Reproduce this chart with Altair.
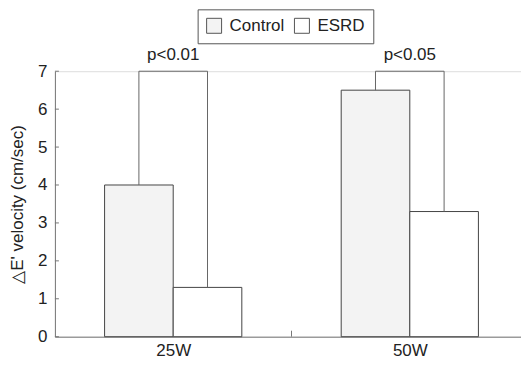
import altair as alt
import pandas as pd

groups = ["25W", "50W"]
series = ["Control", "ESRD"]
control = [4.0, 6.5]
esrd = [1.3, 3.3]
p_labels = ["p<0.01", "p<0.05"]
bracket_top = [7.0, 7.0]
y_ticks = [0, 1, 2, 3, 4, 5, 6, 7]

HALF = 0.29  # bar width in group units

bar_rows = []
br_rows = []
lab_rows = []
for i, g in enumerate(groups):
    c = i + 1
    bar_rows.append(dict(group=g, series="Control", x=c - HALF, x2=c, value=control[i]))
    bar_rows.append(dict(group=g, series="ESRD", x=c, x2=c + HALF, value=esrd[i]))
    pts = [(c - HALF / 2, control[i]), (c - HALF / 2, bracket_top[i]),
           (c + HALF / 2, bracket_top[i]), (c + HALF / 2, esrd[i])]
    for k, (px, py) in enumerate(pts):
        br_rows.append(dict(group=g, order=k, x=px, value=py))
    lab_rows.append(dict(group=g, x=c, value=bracket_top[i], text=p_labels[i]))

bars_df = pd.DataFrame(bar_rows)
br_df = pd.DataFrame(br_rows)
lab_df = pd.DataFrame(lab_rows)
tick_df = pd.DataFrame({"value": y_ticks})
mid_df = pd.DataFrame({"x": [1.5]})

W, H = 467, 266
xscale = alt.Scale(domain=[0.5, 2.47], nice=False, zero=False)
yscale = alt.Scale(domain=[0, 7], nice=False)
label_expr = "[" + ",".join(f"'{g}'" for g in groups) + "][datum.value - 1]"

xaxis = alt.Axis(values=[1, 2], labelExpr=label_expr, ticks=False,
                 labelFontSize=17, labelPadding=6, title=None,
                 domainColor="#777", grid=False, labelColor="#222")
yaxis = alt.Axis(values=y_ticks, ticks=False, labelPadding=8,
                 title="△E' velocity (cm/sec)", grid=False,
                 domainColor="#777", labelFontSize=17, titleFontSize=17,
                 titleFontWeight="normal", titlePadding=11,
                 labelColor="#222", titleColor="#222")

X = alt.X("x:Q", scale=xscale, axis=xaxis)
Y = alt.Y("value:Q", scale=yscale, axis=yaxis)

bars = alt.Chart(bars_df).mark_bar(stroke="#444", strokeWidth=1).encode(
    x=X,
    x2="x2:Q",
    y=Y,
    y2=alt.datum(0),
    fill=alt.Fill("series:N", scale=alt.Scale(domain=series, range=["#f3f3f3", "#ffffff"]),
                  legend=alt.Legend(orient="none", legendX=143, legendY=-62,
                                    direction="horizontal", title=None,
                                    strokeColor="#555", fillColor="white", padding=8,
                                    labelFontSize=17, symbolType="square", symbolSize=225,
                                    symbolStrokeColor="#555", symbolStrokeWidth=1,
                                    columnPadding=8, labelOffset=7, labelColor="#222")),
)

brackets = alt.Chart(br_df).mark_line(color="#666", strokeWidth=1).encode(
    x=X, y=Y,
    detail="group:N",
    order="order:Q",
)

labels = alt.Chart(lab_df).mark_text(fontSize=17, baseline="alphabetic", dy=-11, color="#222").encode(
    x=X, y=Y,
    text="text:N",
)

yticks = alt.Chart(tick_df).mark_rule(color="#777").encode(
    y=Y,
    x=alt.value(0),
    x2=alt.value(4),
)

midtick = alt.Chart(mid_df).mark_rule(color="#777").encode(
    x=X,
    y=alt.value(H),
    y2=alt.value(H - 6),
)

chart = alt.layer(bars, brackets, labels, yticks, midtick).properties(
    width=W, height=H,
    padding={"left": 0, "top": 0, "right": 0, "bottom": 0},
).configure_view(stroke=None).configure(font="Liberation Sans")

chart.save("out.html", embed_options={"renderer": "svg", "actions": False})
